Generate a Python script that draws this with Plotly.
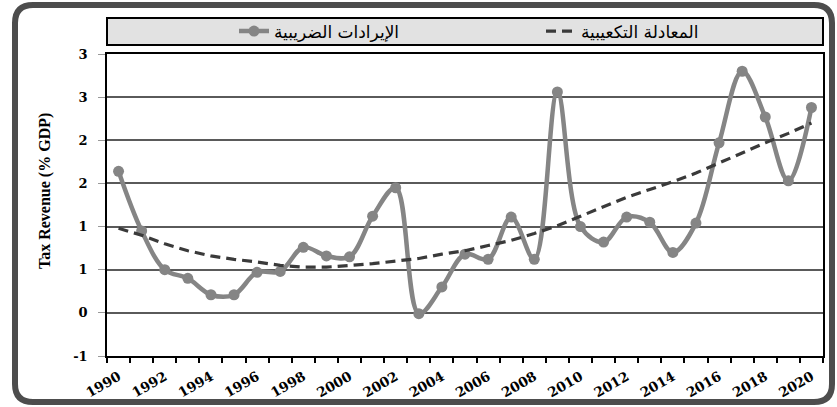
import plotly.graph_objects as go

years = list(range(1990, 2021))
revenue = [1.64, 0.95, 0.50, 0.40, 0.21, 0.21, 0.47, 0.48, 0.76, 0.66, 0.65,
           1.12, 1.45, -0.01, 0.30, 0.68, 0.62, 1.11, 0.62, 2.56, 1.00,
           0.82, 1.11, 1.05, 0.70, 1.04, 1.97, 2.80, 2.27, 1.53, 2.38]
trend = [0.98, 0.90, 0.80, 0.72, 0.66, 0.62, 0.59, 0.55, 0.53, 0.53, 0.55,
         0.57, 0.60, 0.63, 0.68, 0.72, 0.78, 0.84, 0.92, 1.01, 1.12,
         1.23, 1.34, 1.43, 1.52, 1.62, 1.74, 1.85, 1.97, 2.08, 2.20]
ytick_vals = [-0.5, 0, 0.5, 1, 1.5, 2, 2.5, 3]
ytick_text = ["-1", "0", "1", "1", "2", "2", "3", "3"]
xtick_labels = [str(y) for y in range(1990, 2021, 2)]
name_rev = "الإيرادات الضريبية"
name_trend = "المعادلة التكعيبية"
ytitle = "Tax Revenue (% GDP)"

W, H = 837, 407
L, R, T, B = 107, 14, 54, 51
PW, PH = W - L - R, H - T - B


def px(x):
    return (x - L) / PW


def py(y):
    return (H - B - y) / PH


fig = go.Figure()
fig.add_trace(go.Scatter(
    x=years, y=revenue, name=name_rev, mode="lines+markers",
    line=dict(color="#858585", width=4.5, shape="spline", smoothing=1.0),
    marker=dict(color="#858585", size=11),
))
fig.add_trace(go.Scatter(
    x=years, y=trend, name=name_trend, mode="lines",
    line=dict(color="#3a3a3a", width=3.2, dash="10px,6px"),
))
# invisible trace on secondary x axis for boundary tick marks
fig.add_trace(go.Scatter(x=[1989.5, 2020.5], y=[None, None], xaxis="x2",
                         showlegend=False, hoverinfo="skip"))

fig.update_layout(
    width=W, height=H,
    margin=dict(l=L, r=R, t=T, b=B, autoexpand=False),
    paper_bgcolor="white", plot_bgcolor="white",
    showlegend=True,
    legend=dict(orientation="h", x=px(234), y=py(31.5), xanchor="left",
                yanchor="middle", bgcolor="rgba(0,0,0,0)",
                font=dict(family="DejaVu Sans", size=17, color="black"),
                entrywidth=262, entrywidthmode="pixels", traceorder="normal"),
    xaxis=dict(range=[1989.5, 2020.5], tickvals=list(range(1990, 2021, 2)),
               ticktext=xtick_labels, tickangle=-30, ticks="", showgrid=False,
               showline=True, linecolor="black", linewidth=1.5, mirror=True,
               zeroline=False, automargin=False, ticklabelstandoff=6,
               tickfont=dict(family="DejaVu Serif", size=13.5, color="black",
                             weight="bold")),
    xaxis2=dict(range=[1989.5, 2020.5], overlaying="x", side="bottom",
                tickvals=[y + 0.5 for y in range(1989, 2021)],
                showticklabels=False, ticks="outside", ticklen=6,
                tickwidth=1.5, tickcolor="black", showgrid=False,
                zeroline=False, showline=False, automargin=False),
    yaxis=dict(range=[-0.5, 3.0], tickvals=ytick_vals, ticktext=ytick_text,
               showgrid=True, gridcolor="#5a5a5a", gridwidth=1.6,
               zeroline=False, ticks="outside", ticklen=7, tickcolor="#999",
               showline=True, linecolor="black", linewidth=1.5, mirror=True,
               automargin=False, ticklabelstandoff=8,
               tickfont=dict(family="DejaVu Serif", size=13, color="black",
                             weight="bold")),
)

fig.add_annotation(text=ytitle, xref="paper", yref="paper",
                   x=px(45), y=py(191), textangle=-90, showarrow=False,
                   xanchor="center", yanchor="middle",
                   font=dict(family="Liberation Serif", size=16,
                             color="black", weight="bold"))

# legend box
fig.add_shape(type="rect", xref="paper", yref="paper",
              x0=px(107), x1=px(823), y0=py(45), y1=py(18),
              fillcolor="#e2e2e2", line=dict(color="black", width=2),
              layer="below")
# outer rounded frame
x0, x1, y0, y1, r = px(15), px(832), py(402), py(5), 18
rx, ry = r / PW, r / PH
path = (f"M {x0+rx} {y1} L {x1-rx} {y1} Q {x1} {y1} {x1} {y1-ry} "
        f"L {x1} {y0+ry} Q {x1} {y0} {x1-rx} {y0} L {x0+rx} {y0} "
        f"Q {x0} {y0} {x0} {y0+ry} L {x0} {y1-ry} Q {x0} {y1} {x0+rx} {y1} Z")
fig.add_shape(type="path", xref="paper", yref="paper", path=path,
              line=dict(color="#4d4d4d", width=6), fillcolor="rgba(0,0,0,0)")

fig.write_html("out.html", config={"displayModeBar": False},
               post_script="document.body.style.margin='0';"
                           "document.body.style.overflow='hidden';")
